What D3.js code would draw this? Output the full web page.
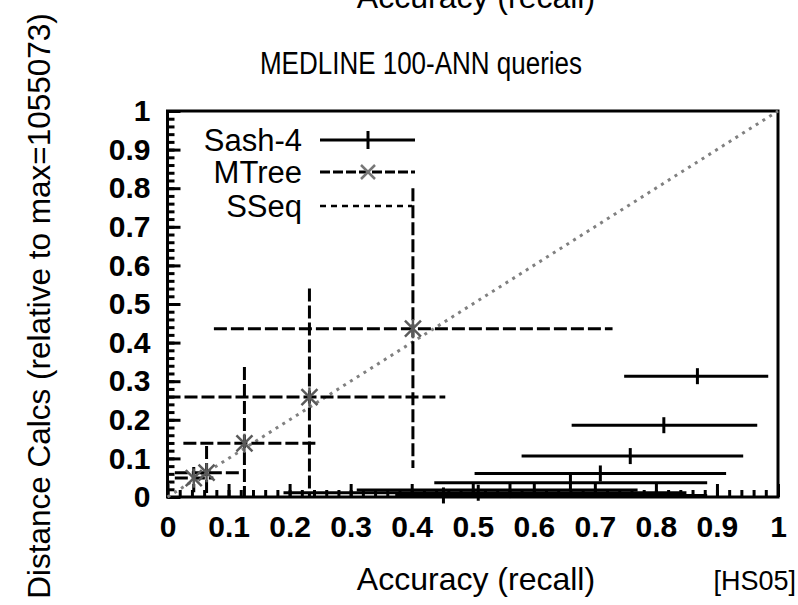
<!DOCTYPE html>
<html>
<head>
<meta charset="utf-8">
<script src="https://cdn.jsdelivr.net/npm/d3@7"></script>
<style>
  body { margin: 0; background: #fff; }
  text { font-family: "Liberation Sans", Arial, sans-serif; fill: #000; }
</style>
</head>
<body>
<div id="chart"></div>
<script>
// Sash-4: point + horizontal error range
const sashX     = [0.868, 0.813, 0.758, 0.709, 0.660, 0.561, 0.509, 0.452];
const sashY     = [0.313, 0.186, 0.106, 0.061, 0.037, 0.018, 0.011, 0.004];
const sashXLow  = [0.748, 0.662, 0.580, 0.503, 0.437, 0.310, 0.190, 0.373];
const sashXHigh = [0.984, 0.966, 0.943, 0.915, 0.884, 0.770, 0.850, 0.884];

// MTree: point + x and y error ranges
const mtreeX     = [0.402, 0.2325, 0.126, 0.064, 0.043];
const mtreeY     = [0.436, 0.259, 0.139, 0.063, 0.049];
const mtreeXLow  = [0.076, 0.000, 0.026, 0.012, 0.012];
const mtreeXHigh = [0.729, 0.455, 0.245, 0.119, 0.075];
const mtreeYLow  = [0.075, 0.000, 0.000, 0.000, 0.012];
const mtreeYHigh = [0.800, 0.540, 0.337, 0.132, 0.078];

// SSeq: straight diagonal
const sseqX = [0, 1];
const sseqY = [0, 1];

const tickValues = [0, 0.1, 0.2, 0.3, 0.4, 0.5, 0.6, 0.7, 0.8, 0.9, 1];
const tickLabels = ["0", "0.1", "0.2", "0.3", "0.4", "0.5", "0.6", "0.7", "0.8", "0.9", "1"];

(function () {
    const width = 798;
    const height = 605;

    const svg = d3.select("#chart")
        .append("svg")
        .attr("width", width)
        .attr("height", height);

    const x = d3.scaleLinear().domain([0, 1]).range([167.5, 778]);
    const y = d3.scaleLinear().domain([0, 1]).range([497, 111]);

    const fmt = d => tickLabels[tickValues.indexOf(d)];
    const minor = d3.range(0, 1.001, 0.02);

    // clipped x label of the chart above this one
    svg.append("text")
        .attr("x", 476).attr("y", 8)
        .attr("text-anchor", "middle")
        .style("font-size", "32px")
        .text("Accuracy (recall)");

    // title (a bit taller than wide, like the original raster)
    svg.append("text")
        .attr("transform", "translate(421,74) scale(1,1.2)")
        .attr("text-anchor", "middle")
        .style("font-size", "26px")
        .text("MEDLINE 100-ANN queries");

    // minor ticks
    svg.append("g")
        .attr("transform", `translate(${x(0)},0)`)
        .call(d3.axisLeft(y).tickValues(minor).tickSizeInner(-7).tickSizeOuter(0).tickFormat(""))
        .call(g => g.select(".domain").remove())
        .selectAll("line").attr("stroke-width", 3);

    svg.append("g")
        .attr("transform", `translate(0,${y(0)})`)
        .call(d3.axisBottom(x).tickValues(minor).tickSizeInner(-7).tickSizeOuter(0).tickFormat(""))
        .call(g => g.select(".domain").remove())
        .selectAll("line").attr("stroke-width", 3);

    // major ticks + labels
    const yAxis = svg.append("g")
        .attr("transform", `translate(${x(0)},0)`)
        .call(d3.axisLeft(y).tickValues(tickValues).tickSizeInner(-13).tickSizeOuter(0).tickPadding(17).tickFormat(fmt))
        .call(g => g.select(".domain").remove());
    yAxis.selectAll("line").attr("stroke-width", 3);
    yAxis.selectAll("text")
        .style("font-size", "30px")
        .style("font-weight", "bold")
        .style("font-family", "'Liberation Sans', Arial, sans-serif");

    const xAxis = svg.append("g")
        .attr("transform", `translate(0,${y(0)})`)
        .call(d3.axisBottom(x).tickValues(tickValues).tickSizeInner(-13).tickSizeOuter(0).tickPadding(19).tickFormat(fmt))
        .call(g => g.select(".domain").remove());
    xAxis.selectAll("line").attr("stroke-width", 3);
    xAxis.selectAll("text")
        .style("font-size", "30px")
        .style("font-weight", "bold")
        .style("font-family", "'Liberation Sans', Arial, sans-serif");

    // frame
    svg.append("rect")
        .attr("x", x(0)).attr("y", y(1))
        .attr("width", x(1) - x(0)).attr("height", y(0) - y(1))
        .attr("fill", "none")
        .attr("stroke", "#000")
        .attr("stroke-width", 3);

    // SSeq diagonal
    svg.append("line")
        .attr("x1", x(sseqX[0])).attr("y1", y(sseqY[0]))
        .attr("x2", x(sseqX[1])).attr("y2", y(sseqY[1]))
        .attr("stroke", "#808080")
        .attr("stroke-width", 3)
        .attr("stroke-dasharray", "3,5");

    // MTree error bars
    const mtree = mtreeX.map((d, i) => ({
        x: d, y: mtreeY[i], xl: mtreeXLow[i], xh: mtreeXHigh[i], yl: mtreeYLow[i], yh: mtreeYHigh[i]
    }));
    const mg = svg.append("g").attr("stroke", "#000").attr("stroke-width", 3).attr("stroke-dasharray", "13,4");
    mg.selectAll(".mh").data(mtree).join("line")
        .attr("x1", d => x(d.xl)).attr("x2", d => x(d.xh))
        .attr("y1", d => y(d.y)).attr("y2", d => y(d.y));
    mg.selectAll(".mv").data(mtree).join("line")
        .attr("class", "mv")
        .attr("x1", d => x(d.x)).attr("x2", d => x(d.x))
        .attr("y1", d => y(d.yh)).attr("y2", d => y(d.yl));

    // Sash error bars
    const sash = sashX.map((d, i) => ({ x: d, y: sashY[i], xl: sashXLow[i], xh: sashXHigh[i] }));
    const sg = svg.append("g").attr("stroke", "#000").attr("stroke-width", 3);
    sg.selectAll(".sh").data(sash).join("line")
        .attr("x1", d => x(d.xl)).attr("x2", d => x(d.xh))
        .attr("y1", d => y(d.y)).attr("y2", d => y(d.y));
    sg.selectAll(".sv").data(sash).join("line")
        .attr("class", "sv")
        .attr("x1", d => x(d.x)).attr("x2", d => x(d.x))
        .attr("y1", d => y(d.y) - 8).attr("y2", d => y(d.y) + 8);

    // MTree markers (asterisk)
    const star = (g, cx, cy, r) => {
        g.append("line").attr("x1", cx - r).attr("y1", cy - r).attr("x2", cx + r).attr("y2", cy + r);
        g.append("line").attr("x1", cx - r).attr("y1", cy + r).attr("x2", cx + r).attr("y2", cy - r);
        g.append("line").attr("x1", cx).attr("y1", cy - r * 1.2).attr("x2", cx).attr("y2", cy + r * 1.2);
    };
    const starG = svg.append("g").attr("stroke", "#5a5a5a").attr("stroke-width", 2.5);
    mtree.forEach(d => star(starG, x(d.x), y(d.y), 8));

    // legend
    const legend = svg.append("g");
    const rows = [
        { name: "Sash-4", y: 140 },
        { name: "MTree", y: 172 },
        { name: "SSeq", y: 206 }
    ];
    legend.selectAll("text").data(rows).join("text")
        .attr("x", 302).attr("y", d => d.y + 11)
        .attr("text-anchor", "end")
        .style("font-size", "31px")
        .text(d => d.name);

    legend.append("line").attr("x1", 320).attr("x2", 415).attr("y1", 140).attr("y2", 140)
        .attr("stroke", "#000").attr("stroke-width", 3);
    legend.append("line").attr("x1", 368).attr("x2", 368).attr("y1", 131).attr("y2", 149)
        .attr("stroke", "#000").attr("stroke-width", 3);
    legend.append("line").attr("x1", 320).attr("x2", 415).attr("y1", 172).attr("y2", 172)
        .attr("stroke", "#000").attr("stroke-width", 3).attr("stroke-dasharray", "10,3");
    const lg = legend.append("g").attr("stroke", "#777").attr("stroke-width", 2.5);
    lg.append("line").attr("x1", 361).attr("y1", 165).attr("x2", 375).attr("y2", 179);
    lg.append("line").attr("x1", 361).attr("y1", 179).attr("x2", 375).attr("y2", 165);
    legend.append("line").attr("x1", 320).attr("x2", 412).attr("y1", 206).attr("y2", 206)
        .attr("stroke", "#000").attr("stroke-width", 2.5).attr("stroke-dasharray", "6,5");

    // axis labels
    svg.append("text")
        .attr("x", 476).attr("y", 590)
        .attr("text-anchor", "middle")
        .style("font-size", "32px")
        .text("Accuracy (recall)");

    svg.append("text")
        .attr("x", 796).attr("y", 590)
        .attr("text-anchor", "end")
        .style("font-size", "27px")
        .text("[HS05]");

    svg.append("text")
        .attr("transform", "translate(50,306) rotate(-90)")
        .attr("text-anchor", "middle")
        .style("font-size", "31.5px")
        .text("Distance Calcs (relative to max=1055073)");
})();
</script>
</body>
</html>
